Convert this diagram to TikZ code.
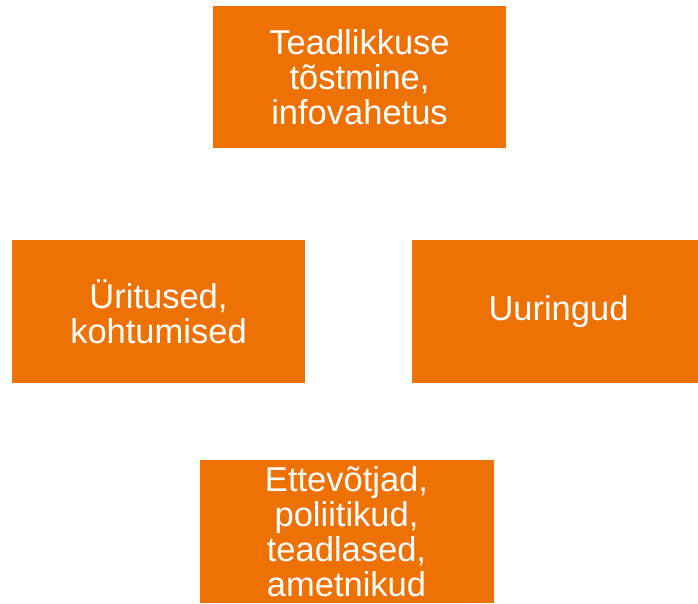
\documentclass[tikz,border=0pt]{standalone}
\usepackage{fontspec}
\setmainfont{Liberation Sans}
\usepackage{xcolor}
\usepackage{tikz}
\definecolor{orange}{HTML}{ED7203}
\definecolor{text}{HTML}{FFFFFF}
\tikzset{
  topic/.style={fill=orange, draw=none, inner sep=0pt, align=center,
    text=text, font=\fontsize{34.5}{35}\selectfont},
}
\begin{document}
\begin{tikzpicture}[x=1pt, y=-1pt]
  \useasboundingbox (0,0) rectangle (698,603);
  \node[topic, minimum width=293pt, minimum height=142pt] (aware) at (359.5,77) {Teadlikkuse\\tõstmine,\\infovahetus};
  \node[topic, minimum width=293pt, minimum height=143pt] (events) at (158.5,311.5) {Üritused,\\kohtumised};
  \node[topic, minimum width=293pt, minimum height=143pt] (study) at (558.5,311.5) {Uuringud};
  \node[topic, minimum width=294pt, minimum height=143pt] (people) at (346.5,531.5) {Ettevõtjad,\\poliitikud,\\teadlased,\\ametnikud};
\end{tikzpicture}
\end{document}
